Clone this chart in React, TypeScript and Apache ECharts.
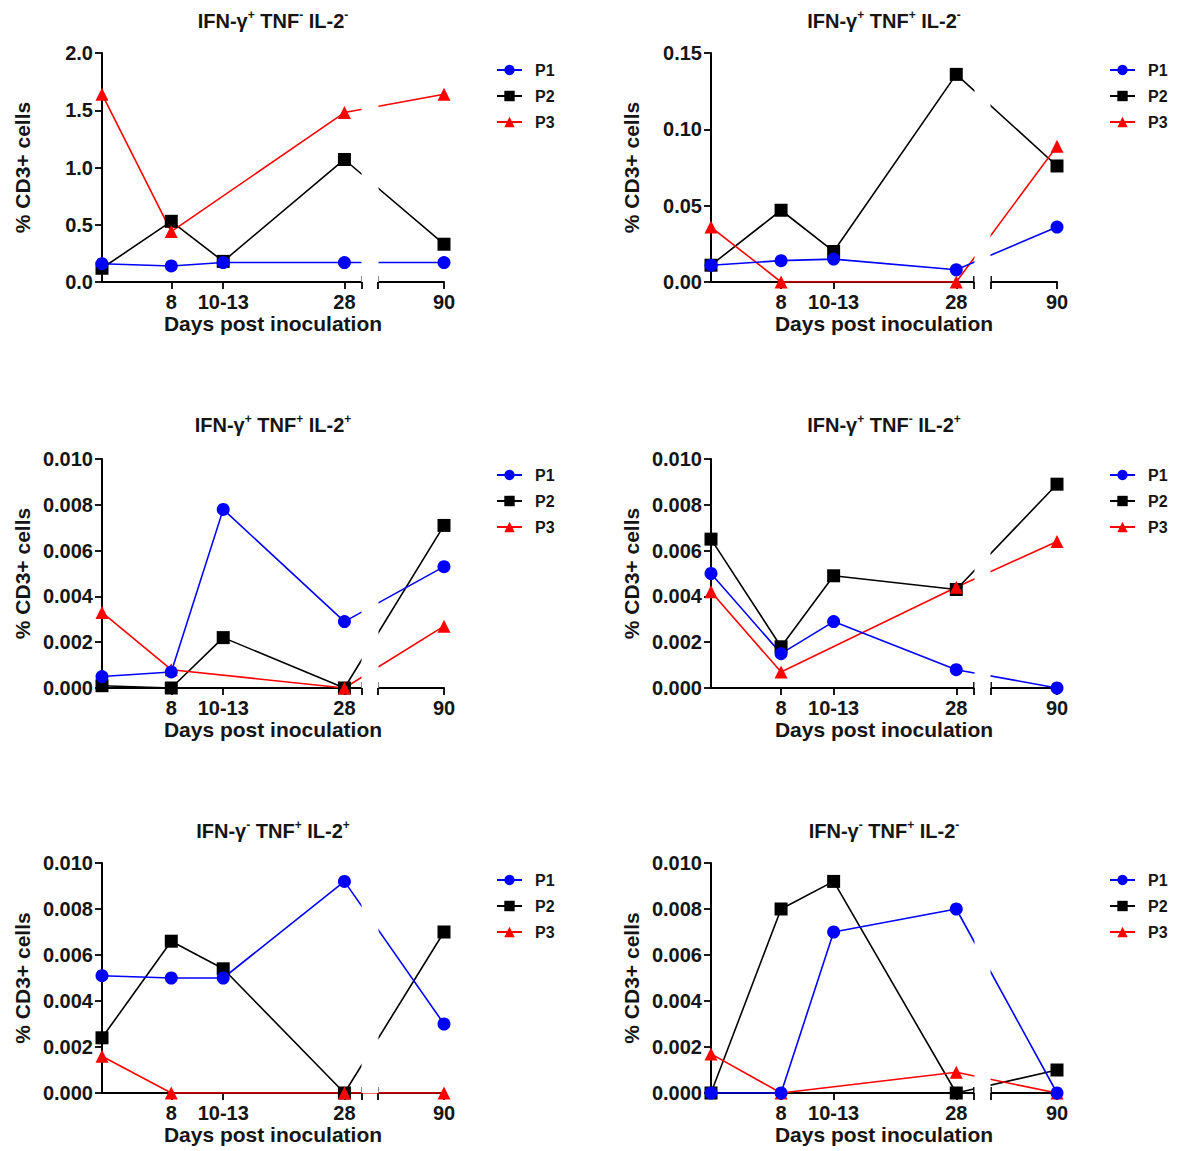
import React, { useEffect, useRef } from 'react';
import * as echarts from 'echarts';

// x positions (days) of the five sampling points; the "10-13" group is plotted at ~14
const dayValues = [0, 8, 14, 28, 90];
const xTickValues = [8, 14, 28, 90];
const xTickLabels = ['8', '10-13', '28', '90'];
const breakStart = 30;
const breakEnd = 82.4;
const breakGap = 1.9;

const panelTitles = [
  ['+', '-', '-'],
  ['+', '+', '-'],
  ['+', '+', '+'],
  ['+', '-', '+'],
  ['-', '+', '+'],
  ['-', '+', '-'],
];

const yMax = [2.0, 0.15, 0.01, 0.01, 0.01, 0.01];
const yInterval = [0.5, 0.05, 0.002, 0.002, 0.002, 0.002];
const yDecimals = [1, 2, 3, 3, 3, 3];

// values per panel, per donor (P1, P2, P3); null = no measurement
const panelA_P1 = [0.16, 0.14, 0.17, 0.17, 0.17];
const panelA_P2 = [0.12, 0.53, 0.18, 1.07, 0.33];
const panelA_P3 = [1.64, 0.44, null, 1.48, 1.64];

const panelB_P1 = [0.011, 0.014, 0.015, 0.008, 0.036];
const panelB_P2 = [0.011, 0.047, 0.020, 0.136, 0.076];
const panelB_P3 = [0.036, 0.0, null, 0.0, 0.089];

const panelC_P1 = [0.0005, 0.0007, 0.0078, 0.0029, 0.0053];
const panelC_P2 = [0.0001, 0.0, 0.0022, 0.0, 0.0071];
const panelC_P3 = [0.0033, 0.0008, null, 0.0, 0.0027];

const panelD_P1 = [0.0050, 0.0015, 0.0029, 0.0008, 0.0];
const panelD_P2 = [0.0065, 0.0018, 0.0049, 0.0043, 0.0089];
const panelD_P3 = [0.0042, 0.0007, null, 0.0044, 0.0064];

const panelE_P1 = [0.0051, 0.0050, 0.0050, 0.0092, 0.0030];
const panelE_P2 = [0.0024, 0.0066, 0.0054, 0.0, 0.0070];
const panelE_P3 = [0.0016, 0.0, null, 0.0, 0.0];

const panelF_P1 = [0.0, 0.0, 0.0070, 0.0080, 0.0];
const panelF_P2 = [0.0, 0.0080, 0.0092, 0.0, 0.0010];
const panelF_P3 = [0.0017, 0.0, null, 0.0009, 0.0];

const panelSeries = [
  [panelA_P1, panelA_P2, panelA_P3],
  [panelB_P1, panelB_P2, panelB_P3],
  [panelC_P1, panelC_P2, panelC_P3],
  [panelD_P1, panelD_P2, panelD_P3],
  [panelE_P1, panelE_P2, panelE_P3],
  [panelF_P1, panelF_P2, panelF_P3],
];

const donorNames = ['P1', 'P2', 'P3'];
const donorColors = ['#0000ff', '#000000', '#ff0000'];
const donorSymbols = ['circle', 'rect', 'triangle'];

const FONT = 'Liberation Sans, Arial, Helvetica, sans-serif';
const TEXT = '#151515';

// layout of the 2x3 panels (pixels)
const colLeft = [102, 711];
const colWidth = [342, 346];
const rowTop = [53, 459, 863];
const rowHeight = [229, 229, 230];
const titleTop = [9, 413, 819];
const legendLeft = [496, 1109];
const legendTop = [62, 467, 872];

export default function App() {
  const ref = useRef<HTMLDivElement>(null);

  useEffect(() => {
    document.body.style.margin = '0';
    const chart = echarts.init(ref.current!, undefined, { renderer: 'svg' });

    const grids: any[] = [];
    const xAxes: any[] = [];
    const breakAxes: any[] = [];
    const yAxes: any[] = [];
    const titles: any[] = [];
    const legends: any[] = [];
    const series: any[] = [];

    for (let i = 0; i < 6; i++) {
      const col = i % 2;
      const row = Math.floor(i / 2);
      grids.push({ left: colLeft[col], top: rowTop[row], width: colWidth[col], height: rowHeight[row] });
      const signs = panelTitles[i];
      titles.push({
        text: `{b|IFN-γ}{s|${signs[0]}}{b| TNF}{s|${signs[1]}}{b| IL-2}{s|${signs[2]}}`,
        left: colLeft[col] + colWidth[col] / 2,
        textAlign: 'center',
        top: titleTop[row],
        padding: 0,
        textStyle: {
          rich: {
            b: { fontFamily: FONT, fontSize: 20, fontWeight: 'bold', color: TEXT, lineHeight: 24 },
            s: { fontFamily: FONT, fontSize: 12, fontWeight: 'bold', color: TEXT, verticalAlign: 'top', lineHeight: 24, padding: [0, 0, 9, 0] },
          },
        },
      });
      legends.push({
        data: donorNames,
        orient: 'vertical',
        left: legendLeft[col],
        top: legendTop[row],
        padding: 0,
        itemWidth: 25,
        itemHeight: 13,
        itemGap: 10,
        textStyle: { fontFamily: FONT, fontSize: 16, fontWeight: 'bold', color: TEXT, padding: [0, 0, 0, 8] },
      });
      xAxes.push({
        type: 'value',
        gridIndex: i,
        position: 'bottom',
        min: 0,
        max: 90,
        breaks: [{ start: breakStart, end: breakEnd, gap: breakGap }],
        breakArea: {
          show: true,
          itemStyle: { color: '#ffffff', borderWidth: 0, opacity: 1 },
          zigzagAmplitude: 0,
          zigzagZ: 100,
          expandOnClick: false,
        },
        axisLine: { lineStyle: { color: '#000', width: 2 } },
        axisTick: {
          customValues: [...xTickValues, breakStart, breakEnd],
          length: 7,
          lineStyle: { color: '#000', width: 1.8 },
        },
        axisLabel: {
          customValues: xTickValues,
          formatter: (v: number) => xTickLabels[xTickValues.indexOf(v)] ?? '',
          fontFamily: FONT,
          fontSize: 20,
          fontWeight: 'bold',
          color: TEXT,
          margin: 10,
        },
        splitLine: { show: false },
        name: 'Days post inoculation',
        nameLocation: 'middle',
        nameGap: 31,
        nameTextStyle: { fontFamily: FONT, fontSize: 21, fontWeight: 'bold', color: TEXT },
      });
      // overlay axis on the same bottom edge: inward half of the break marks
      breakAxes.push({
        type: 'value',
        gridIndex: i,
        position: 'bottom',
        offset: 0,
        min: 0,
        max: 90,
        breaks: [{ start: breakStart, end: breakEnd, gap: breakGap }],
        breakArea: { show: false },
        axisLine: { show: false },
        axisTick: {
          inside: true,
          customValues: [breakStart, breakEnd],
          length: 6,
          lineStyle: { color: '#000', width: 1.8 },
        },
        axisLabel: { show: false },
        splitLine: { show: false },
      });
      yAxes.push({
        type: 'value',
        gridIndex: i,
        min: 0,
        max: yMax[i],
        interval: yInterval[i],
        axisLine: { show: true, lineStyle: { color: '#000', width: 2 } },
        axisTick: { show: true, length: 7, lineStyle: { color: '#000', width: 1.8 } },
        axisLabel: {
          formatter: (v: number) => v.toFixed(yDecimals[i]),
          fontFamily: FONT,
          fontSize: 20,
          fontWeight: 'bold',
          color: TEXT,
          margin: 9,
        },
        splitLine: { show: false },
        name: '% CD3+ cells',
        nameLocation: 'middle',
        nameGap: 69,
        nameRotate: 90,
        nameTextStyle: { fontFamily: FONT, fontSize: 21, fontWeight: 'bold', color: TEXT },
      });
      // draw order: P2, P3, then P1 on top
      [1, 2, 0].forEach((d) => {
        series.push({
          name: donorNames[d],
          type: 'line',
          xAxisIndex: i,
          yAxisIndex: i,
          data: dayValues.map((x, j) => [x, panelSeries[i][d][j]]),
          connectNulls: true,
          symbol: donorSymbols[d],
          symbolSize: 13,
          showSymbol: true,
          color: donorColors[d],
          itemStyle: { color: donorColors[d] },
          lineStyle: { color: donorColors[d], width: 1.6 },
        });
      });
    }

    chart.setOption({
      animation: false,
      backgroundColor: '#fff',
      title: titles,
      legend: legends,
      grid: grids,
      xAxis: [...xAxes, ...breakAxes],
      yAxis: yAxes,
      series,
    });
    return () => chart.dispose();
  }, []);

  return <div ref={ref} style={{ position: 'absolute', left: 0, top: 0, width: 1177, height: 1151 }} />;
}
